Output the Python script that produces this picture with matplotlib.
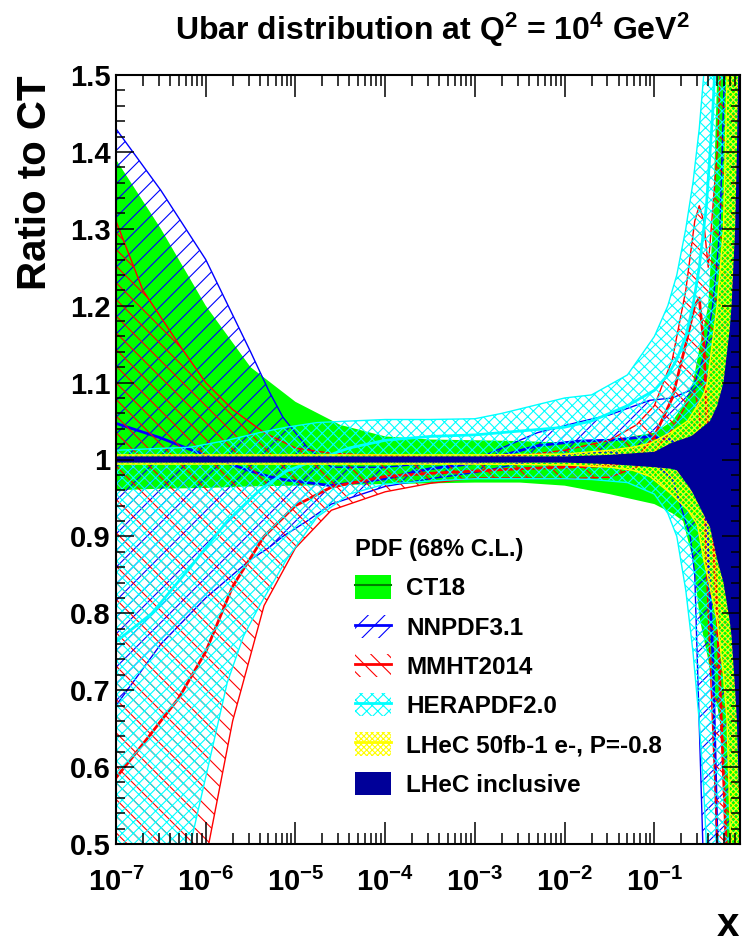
import numpy as np
import matplotlib
matplotlib.use("Agg")
import matplotlib.pyplot as plt
from matplotlib.patches import Patch
from matplotlib.lines import Line2D
from matplotlib.ticker import MultipleLocator, LogLocator, NullFormatter

plt.rcParams['font.family'] = ['Liberation Sans', 'DejaVu Sans']
plt.rcParams['font.weight'] = 'bold'
plt.rcParams['mathtext.fontset'] = 'custom'
plt.rcParams['mathtext.rm'] = 'Liberation Sans:bold'
plt.rcParams['mathtext.it'] = 'Liberation Sans:bold'
plt.rcParams['mathtext.bf'] = 'Liberation Sans:bold'
plt.rcParams['mathtext.default'] = 'rm'
plt.rcParams['hatch.linewidth'] = 0.8

# ---- data (log10 x, ratio to CT18) ----
# CT18
ct_lx = [-7, -6.5, -6, -5.5, -5, -4.5, -4, -3.5, -3, -2.5, -2, -1.5, -1, -0.8, -0.68,
         -0.57, -0.49, -0.4, -0.35, -0.3, -0.27, -0.19, -0.1, 0]
ct_up = [1.39, 1.30, 1.20, 1.12, 1.075, 1.045, 1.03, 1.026, 1.025, 1.024, 1.022, 1.025, 1.035,
         1.05, 1.07, 1.10, 1.15, 1.20, 1.30, 1.50, 1.6, 1.8, 2.0, 2.0]
ct_lo = [0.96, 0.962, 0.963, 0.965, 0.966, 0.967, 0.968, 0.969, 0.970, 0.970, 0.966, 0.955, 0.942,
         0.93, 0.92, 0.87, 0.79, 0.74, 0.70, 0.68, 0.66, 0.5, 0.3, 0.2]

# NNPDF3.1
nn_lx = [-7, -6.5, -6, -5.5, -5.3, -5.14, -4.87, -4.6, -4, -3.5, -3, -2.7, -2.3, -1.83, -1.5,
         -1.05, -0.8, -0.6, -0.55, -0.46, -0.42, -0.35, -0.3, -0.27, -0.22, -0.1, 0]
nn_up = [1.43, 1.35, 1.26, 1.14, 1.09, 1.055, 1.016, 0.99, 0.99, 0.995, 1.0, 1.015, 1.035, 1.049,
         1.058, 1.077, 1.08, 1.09, 1.10, 1.13, 1.15, 1.2, 1.26, 1.3, 1.5, 2.0, 2.0]
nn_c = [1.047, 1.028, 1.005, 0.985, 0.978, 0.974, 0.97, 0.966, 0.975, 0.988, 0.995, 1.005, 1.018,
        1.024, 1.025, 1.03, 1.025, 1.0, 0.99, 0.95, 0.92, 0.75, 0.5, 0.4, 0.3, 0.2, 0.2]
nn_lo = [0.68, 0.76, 0.82, 0.87, 0.885, 0.9, 0.92, 0.942, 0.965, 0.975, 0.983, 0.99, 1.0, 1.008,
         1.01, 1.0, 0.975, 0.9, 0.85, 0.5, 0.4, 0.3, 0.2, 0.15, 0.1, 0.1, 0.1]

# MMHT2014
mm_lx = [-7, -6.7, -6.3, -6.0, -5.7, -5.35, -5.0, -4.6, -4.0, -3.5, -3.0, -2.5, -2.0, -1.5, -1.2,
         -1.0, -0.8, -0.65, -0.55, -0.5, -0.45, -0.4, -0.3, -0.2, -0.1, 0]
mm_up = [1.31, 1.22, 1.15, 1.10, 1.065, 1.035, 1.015, 1.008, 1.005, 1.003, 1.003, 1.005, 1.012,
         1.025, 1.045, 1.07, 1.13, 1.22, 1.31, 1.33, 1.31, 1.25, 1.4, 1.7, 2.0, 2.0]
mm_c = [0.586, 0.63, 0.69, 0.75, 0.835, 0.9, 0.94, 0.964, 0.978, 0.982, 0.985, 0.988, 0.99, 0.992,
        1.0, 1.03, 1.08, 1.15, 1.2, 1.21, 1.15, 1.02, 0.8, 0.5, 0.3, 0.3]
mm_lo = [0.0, 0.1, 0.3, 0.48, 0.66, 0.81, 0.885, 0.934, 0.958, 0.969, 0.976, 0.976, 0.975, 0.977,
         0.99, 1.01, 1.04, 1.07, 1.09, 1.06, 0.95, 0.8, 0.5, 0.3, 0.2, 0.2]

# HERAPDF2.0
hp_lx = [-7, -6.6, -6.17, -5.76, -5.58, -5.4, -5.1, -4.76, -4.4, -4.0, -3.5, -3.0, -2.7, -2.0,
         -1.7, -1.3, -1.0, -0.85, -0.75, -0.65, -0.57, -0.5, -0.45, -0.42, -0.35, -0.25, 0]
hp_up = [1.012, 1.014, 1.016, 1.025, 1.03, 1.035, 1.042, 1.048, 1.05, 1.052, 1.052, 1.053, 1.06,
         1.08, 1.084, 1.11, 1.16, 1.2, 1.24, 1.3, 1.36, 1.43, 1.5, 1.55, 1.7, 2.0, 2.0]
hp_c = [0.763, 0.8, 0.86, 0.92, 0.94, 0.96, 0.985, 1.0, 1.015, 1.025, 1.03, 1.032, 1.035, 1.042,
        1.05, 1.07, 1.09, 1.11, 1.13, 1.16, 1.2, 1.25, 1.3, 1.33, 1.45, 1.7, 2.0]
hp_lo = [0.3, 0.38, 0.5, 0.71, 0.77, 0.81, 0.87, 0.925, 0.955, 0.968, 0.972, 0.975, 0.975, 0.975,
         0.974, 0.97, 0.955, 0.93, 0.9, 0.83, 0.75, 0.66, 0.57, 0.5, 0.35, 0.2, 0.1]

# LHeC 50fb-1 e-, P=-0.8
l5_lx = [-7, -3, -2, -1.5, -1.24, -1.05, -0.82, -0.63, -0.52, -0.45, -0.41, -0.3, -0.23, -0.19,
         -0.15, -0.1, 0]
l5_up = [1.006, 1.006, 1.007, 1.012, 1.016, 1.021, 1.035, 1.05, 1.07, 1.085, 1.1, 1.2, 1.3, 1.5,
         1.7, 2.0, 2.0]
l5_lo = [0.994, 0.994, 0.993, 0.99, 0.986, 0.978, 0.956, 0.935, 0.915, 0.87, 0.85, 0.79, 0.72,
         0.66, 0.5, 0.3, 0.2]

# LHeC inclusive
li_lx = [-7, -2, -1.5, -1.0, -0.82, -0.75, -0.6, -0.57, -0.38, -0.3, -0.23, -0.16, -0.14, -0.1,
         -0.08, -0.066, -0.04, 0]
li_up = [1.004, 1.004, 1.006, 1.01, 1.021, 1.024, 1.03, 1.032, 1.05, 1.07, 1.1, 1.17, 1.2, 1.3,
         1.4, 1.5, 2.0, 2.0]
li_lo = [0.996, 0.996, 0.994, 0.99, 0.988, 0.986, 0.962, 0.956, 0.912, 0.87, 0.84, 0.79, 0.77,
         0.70, 0.66, 0.6, 0.5, 0.3]

labels = ['CT18', 'NNPDF3.1', 'MMHT2014', 'HERAPDF2.0', 'LHeC 50fb-1 e-, P=-0.8', 'LHeC inclusive']
x_ticks = [1e-7, 1e-6, 1e-5, 1e-4, 1e-3, 1e-2, 1e-1]
x_tick_labels = [r'$10^{-7}$', r'$10^{-6}$', r'$10^{-5}$', r'$10^{-4}$', r'$10^{-3}$',
                 r'$10^{-2}$', r'$10^{-1}$']
y_ticks = [0.5, 0.6, 0.7, 0.8, 0.9, 1.0, 1.1, 1.2, 1.3, 1.4, 1.5]
y_tick_labels = ['0.5', '0.6', '0.7', '0.8', '0.9', '1', '1.1', '1.2', '1.3', '1.4', '1.5']

GREEN = '#00ff00'
DKGREEN = '#008000'
BLUE = '#0000ff'
RED = '#ff0000'
CYAN = '#00ffff'
YELLOW = '#ffff00'
NAVY = '#000099'


def hatched_band(ax, lx, lo, up, c, color, hatch, z, clw=2):
    x = 10 ** np.array(lx, dtype=float)
    ax.fill_between(x, lo, up, facecolor='none', edgecolor=color, hatch=hatch,
                    linewidth=0, zorder=z)
    ax.plot(x, up, color=color, lw=1, zorder=z + 0.1)
    ax.plot(x, lo, color=color, lw=1, zorder=z + 0.1)
    if c is not None:
        ax.plot(x, c, color=color, lw=clw, zorder=z + 0.2)


fig = plt.figure(figsize=(7.42, 9.44), dpi=100)
ax = fig.add_axes([116 / 742, 1 - 844 / 944, (740 - 116) / 742, (844 - 75) / 944])
ax.set_xscale('log')

# CT18 solid band
x_ct = 10 ** np.array(ct_lx, dtype=float)
ax.fill_between(x_ct, ct_lo, ct_up, facecolor=GREEN, edgecolor='none', zorder=1)
ax.plot(x_ct, np.ones_like(x_ct), color=DKGREEN, lw=1.5, zorder=1.1)

hatched_band(ax, nn_lx, nn_lo, nn_up, nn_c, BLUE, '//', 2)
hatched_band(ax, mm_lx, mm_lo, mm_up, mm_c, RED, '\\\\', 3)
hatched_band(ax, hp_lx, hp_lo, hp_up, hp_c, CYAN, 'xxx', 4)

x_l5 = 10 ** np.array(l5_lx, dtype=float)
ax.fill_between(x_l5, l5_lo, l5_up, facecolor='none', edgecolor=YELLOW, hatch='xxxxxx',
                linewidth=0, zorder=5)
ax.plot(x_l5, l5_up, color=YELLOW, lw=1, zorder=5.1)
ax.plot(x_l5, l5_lo, color=YELLOW, lw=1, zorder=5.1)

x_li = 10 ** np.array(li_lx, dtype=float)
ax.fill_between(x_li, li_lo, li_up, facecolor=NAVY, edgecolor='none', zorder=6)

ax.set_xlim(1e-7, 0.9)
ax.set_ylim(0.5, 1.5)

ax.set_xticks(x_ticks)
ax.set_xticklabels(x_tick_labels)
ax.xaxis.set_minor_locator(LogLocator(base=10, subs=np.arange(2, 10), numticks=30))
ax.xaxis.set_minor_formatter(NullFormatter())
ax.set_yticks(y_ticks)
ax.set_yticklabels(y_tick_labels)
ax.yaxis.set_minor_locator(MultipleLocator(0.02))

ax.tick_params(axis='both', which='both', direction='in', top=True, right=True, width=1.1)
ax.tick_params(axis='x', which='major', length=16, pad=17, labelsize=21)
ax.tick_params(axis='x', which='minor', length=8)
ax.tick_params(axis='y', which='major', length=13, pad=4, labelsize=21)
ax.tick_params(axis='y', which='minor', length=6.5)
for s in ax.spines.values():
    s.set_linewidth(1.5)
    s.set_zorder(10)
ax.xaxis.set_zorder(10)
ax.yaxis.set_zorder(10)

fig.text(432 / 742, 1 - 30 / 944, r'Ubar distribution at Q$^{2}$ = 10$^{4}$ GeV$^{2}$',
         ha='center', va='center', fontsize=23, fontweight='bold')
fig.text(35 / 742, 1 - 76 / 944, 'Ratio to CT', rotation=90, ha='center', va='top',
         fontsize=29, fontweight='bold')
fig.text(728 / 742, 1 - 925 / 944, 'x', ha='center', va='center', fontsize=29,
         fontweight='bold')

# legend
handles = [
    (Patch(facecolor=GREEN, edgecolor='none'), Line2D([], [], color=DKGREEN, lw=1.5)),
    (Patch(facecolor='none', edgecolor=BLUE, hatch='//', lw=0), Line2D([], [], color=BLUE, lw=2)),
    (Patch(facecolor='none', edgecolor=RED, hatch='\\\\', lw=0), Line2D([], [], color=RED, lw=2)),
    (Patch(facecolor='none', edgecolor=CYAN, hatch='xxx', lw=0), Line2D([], [], color=CYAN, lw=2)),
    (Patch(facecolor='none', edgecolor=YELLOW, hatch='xxxxxx', lw=0),
     Line2D([], [], color=YELLOW, lw=2)),
    Patch(facecolor=NAVY, edgecolor='none'),
]
leg = ax.legend(handles, labels, title='PDF (68% C.L.)', loc='upper left',
                bbox_to_anchor=(355 / 742, 1 - 538 / 944), bbox_transform=fig.transFigure,
                frameon=False, prop={'size': 17.5, 'weight': 'bold'},
                title_fontproperties={'size': 17, 'weight': 'bold'}, alignment='left',
                handlelength=1.5, handleheight=1.1, handletextpad=0.6, labelspacing=0.59,
                borderpad=0, borderaxespad=0)
leg.set_zorder(20)

fig.savefig('out.png', dpi=100)
